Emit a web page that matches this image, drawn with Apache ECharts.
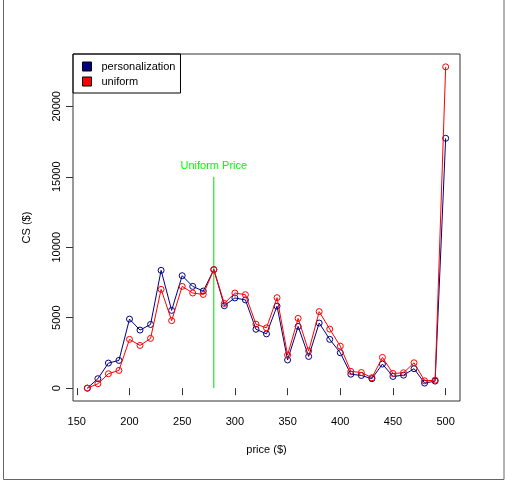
<!DOCTYPE html>
<html>
<head>
<meta charset="utf-8">
<script src="https://cdn.jsdelivr.net/npm/echarts@6/dist/echarts.min.js"></script>
<style>html,body{margin:0;padding:0;background:#fff;}#c{width:505px;height:482px;}</style>
</head>
<body>
<div id="c"></div>
<script>
var prices = [160,170,180,190,200,210,220,230,240,250,260,270,280,290,300,310,320,330,340,350,360,370,380,390,400,410,420,430,440,450,460,470,480,490,500];
var personalization = [0,670,1780,1970,4900,4120,4520,8360,5520,7980,7220,6890,8410,5850,6400,6260,4180,3850,5820,2000,4380,2250,4620,3460,2510,990,900,670,1710,830,920,1380,360,500,17730];
var uniform = [0,310,1020,1260,3460,3030,3530,7010,4790,7220,6750,6650,8410,6010,6750,6630,4540,4280,6420,2350,4950,2630,5430,4190,2980,1190,1110,740,2180,1040,1090,1800,520,570,22800];
var xTicks = [150,200,250,300,350,400,450,500];
var yTicks = [0,5000,10000,15000,20000];
var uniformPrice = 280;
var uniformLineTop = 15000;

var FONT = '"Liberation Sans", Arial, sans-serif';
function pairs(xs, ys){ return xs.map(function(x,i){ return [x, ys[i]]; }); }

// R-style 4% axis extension
var xMin = 160 - (500-160)*0.04, xMax = 500 + (500-160)*0.04;
var yMaxData = Math.max.apply(null, uniform.concat(personalization));
var yMin = 0 - yMaxData*0.04, yMax = yMaxData*1.04;

var chart = echarts.init(document.getElementById('c'), null, {renderer:'canvas'});
chart.setOption({
  animation: false,
  backgroundColor: '#fff',
  textStyle: {fontFamily: FONT},
  grid: {left: 73, top: 54, right: 45, bottom: 81, show: true, borderColor: '#333', borderWidth: 1, backgroundColor: 'transparent'},
  legend: {
    orient: 'vertical', left: 73, top: 54,
    borderColor: '#000', borderWidth: 1, padding: [7, 5, 6, 9],
    itemWidth: 9, itemHeight: 9, itemGap: 4,
    textStyle: {fontSize: 11, color: '#000', fontFamily: FONT, padding: [0,0,0,5]},
    data: [
      {name: 'personalization', icon: 'rect', itemStyle: {color: '#000080', borderColor: '#000', borderWidth: 1}},
      {name: 'uniform', icon: 'rect', itemStyle: {color: '#ff0000', borderColor: '#000', borderWidth: 1}}
    ]
  },
  xAxis: {
    type: 'value', min: xMin, max: xMax,
    name: 'price ($)', nameLocation: 'middle', nameGap: 43,
    nameTextStyle: {fontSize: 11, color: '#000', fontFamily: FONT},
    axisLine: {show: false},
    splitLine: {show: false},
    axisTick: {show: true, inside: false, length: 7, lineStyle: {color: '#333'}, customValues: xTicks},
    axisLabel: {fontSize: 11, color: '#000', margin: 15, customValues: xTicks, fontFamily: FONT}
  },
  yAxis: {
    type: 'value', min: yMin, max: yMax,
    name: 'CS ($)', nameLocation: 'middle', nameGap: 41, nameRotate: 90,
    nameTextStyle: {fontSize: 11, color: '#000', fontFamily: FONT},
    axisLine: {show: false},
    splitLine: {show: false},
    axisTick: {show: true, inside: false, length: 7, lineStyle: {color: '#333'}, customValues: yTicks},
    axisLabel: {fontSize: 11, color: '#000', margin: 11, rotate: 90, customValues: yTicks, fontFamily: FONT,
      formatter: function(v){ return String(Math.round(v)); }}
  },
  series: [
    {
      name: 'Uniform Price', type: 'line', silent: true,
      data: pairs([uniformPrice, uniformPrice], [0, uniformLineTop]),
      symbol: 'circle', symbolSize: 0.01, showSymbol: true,
      itemStyle: {color: 'rgba(0,0,0,0)'},
      label: {show: true, position: 'top', distance: 5, color: '#00ff00', fontSize: 11, fontFamily: FONT,
        formatter: function(p){ return p.dataIndex === 1 ? 'Uniform Price' : ''; }},
      lineStyle: {color: '#00dd00', width: 1}, z: 1
    },
    {
      name: 'personalization', type: 'line', data: pairs(prices, personalization),
      symbol: 'circle', symbolSize: 6,
      itemStyle: {color: 'rgba(0,0,0,0)', borderColor: '#000080', borderWidth: 1},
      lineStyle: {color: '#000080', width: 1}, z: 2
    },
    {
      name: 'uniform', type: 'line', data: pairs(prices, uniform),
      symbol: 'circle', symbolSize: 6,
      itemStyle: {color: 'rgba(0,0,0,0)', borderColor: '#ff0000', borderWidth: 1},
      lineStyle: {color: '#ff0000', width: 1}, z: 3
    }
  ],
  graphic: [
    {type: 'rect', shape: {x: 3.5, y: -2, width: 500.5, height: 481.5}, style: {fill: 'none', stroke: '#666', lineWidth: 1}, silent: true, z: 100}
  ]
});
</script>
</body>
</html>
